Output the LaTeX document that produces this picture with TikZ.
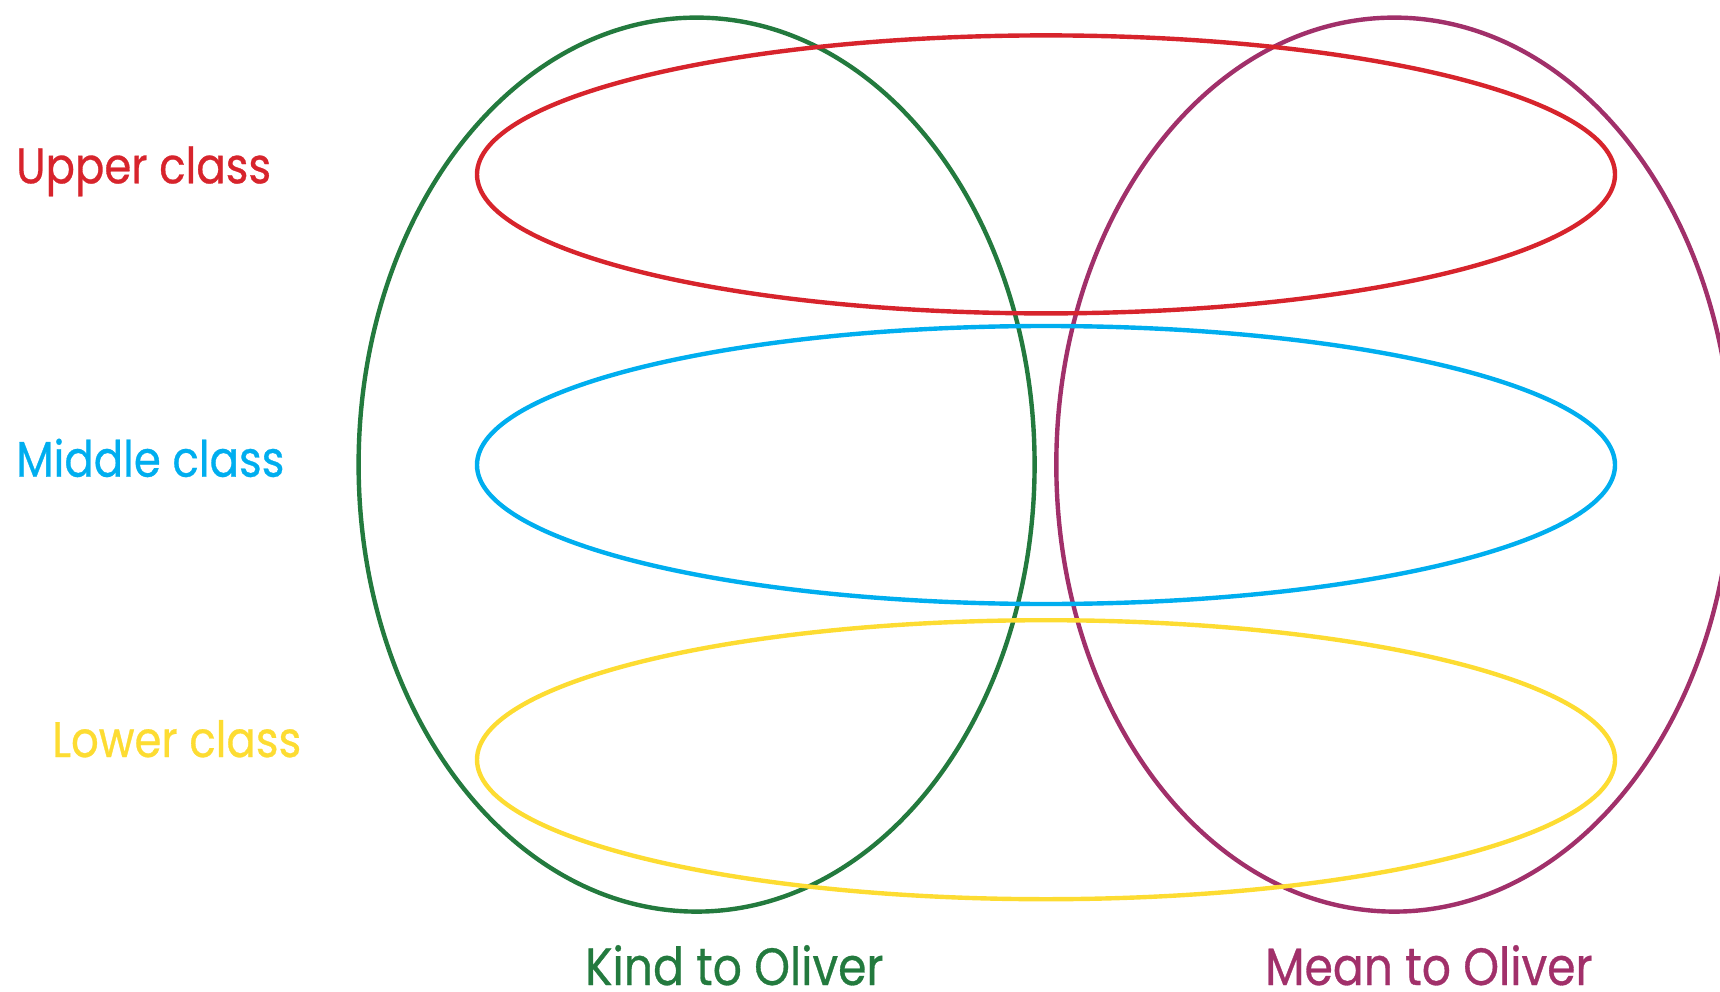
\documentclass[tikz,border=0pt]{standalone}
\usepackage{fontspec}
\setmainfont[FakeStretch=0.87,FakeBold=0.6]{Poppins}
\definecolor{cred}{HTML}{D7242C}
\definecolor{cblue}{HTML}{00AEEF}
\definecolor{cyellow}{HTML}{FDDC32}
\definecolor{cgreen}{HTML}{237A3E}
\definecolor{cpurple}{HTML}{A1306A}
\begin{document}
\begin{tikzpicture}[x=1pt,y=-1pt,
  ring/.style={line width=4.4pt},
  lab/.style={anchor=base west,inner sep=0pt,text depth=0pt,font=\fontsize{50}{60}\selectfont},
  blab/.style={lab,font=\fontsize{52.5}{60}\selectfont}]
\useasboundingbox (0,0) rectangle (1720,992);
\clip (0,0) rectangle (1720,992);
\draw[ring,cgreen] (696.6,464.6) ellipse [x radius=338pt, y radius=447pt];
\draw[ring,cpurple] (1394.3,464.6) ellipse [x radius=338pt, y radius=447pt];
\draw[ring,cred] (1046,174.4) ellipse [x radius=569pt, y radius=139pt];
\draw[ring,cblue] (1046,465) ellipse [x radius=569pt, y radius=139pt];
\draw[ring,cyellow] (1046,759.7) ellipse [x radius=569pt, y radius=139.5pt];
\node[lab,text=cred] (upper) at (16,183.3) {Upper class};
\node[lab,text=cblue] (middle) at (16,476.7) {Middle class};
\node[lab,text=cyellow] (lower) at (52,757) {Lower class};
\node[blab,text=cgreen] (kind) at (585,985) {Kind to Oliver};
\node[blab,text=cpurple] (mean) at (1265,985) {Mean to Oliver};
\end{tikzpicture}
\end{document}
